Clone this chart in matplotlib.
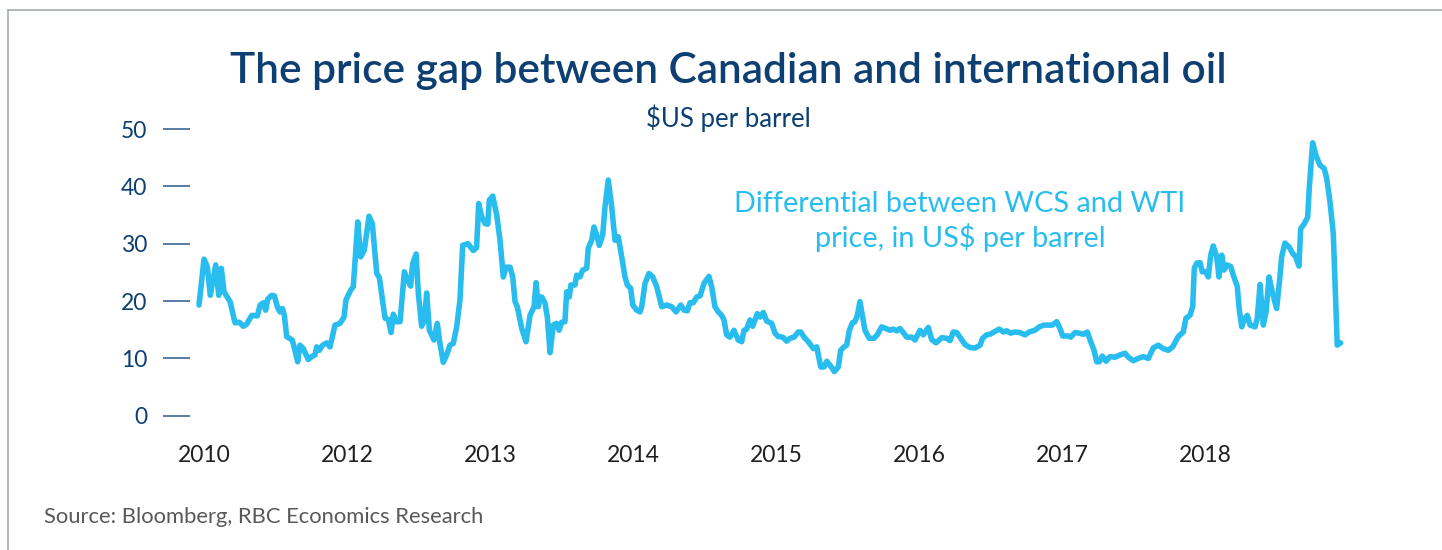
import matplotlib
matplotlib.use("Agg")
import matplotlib.pyplot as plt
from matplotlib.lines import Line2D

# WCS - WTI differential, $US per barrel
dates = [
    2010.965, 2011.000, 2011.023, 2011.044, 2011.082, 2011.103, 2011.121, 2011.140, 2011.182, 2011.217,
    2011.247, 2011.275, 2011.299, 2011.334, 2011.373, 2011.392, 2011.415, 2011.431, 2011.445, 2011.473,
    2011.492, 2011.513, 2011.531, 2011.548, 2011.562, 2011.578, 2011.617, 2011.636, 2011.655, 2011.671,
    2011.694, 2011.729, 2011.753, 2011.776, 2011.788, 2011.806, 2011.830, 2011.858, 2011.881, 2011.916,
    2011.951, 2011.979, 2011.993, 2012.026, 2012.044, 2012.075, 2012.096, 2012.121, 2012.154, 2012.177,
    2012.208, 2012.226, 2012.266, 2012.289, 2012.308, 2012.324, 2012.343, 2012.371, 2012.401, 2012.425,
    2012.445, 2012.459, 2012.483, 2012.499, 2012.522, 2012.541, 2012.557, 2012.576, 2012.608, 2012.631,
    2012.650, 2012.673, 2012.697, 2012.720, 2012.743, 2012.767, 2012.790, 2012.809, 2012.846, 2012.883,
    2012.906, 2012.921, 2012.942, 2012.965, 2012.984, 2012.995, 2013.019, 2013.047, 2013.070, 2013.093,
    2013.112, 2013.140, 2013.159, 2013.175, 2013.191, 2013.222, 2013.252, 2013.280, 2013.299, 2013.308,
    2013.322, 2013.338, 2013.350, 2013.362, 2013.385, 2013.401, 2013.420, 2013.443, 2013.466, 2013.483,
    2013.501, 2013.524, 2013.536, 2013.554, 2013.566, 2013.594, 2013.606, 2013.629, 2013.648, 2013.676,
    2013.687, 2013.711, 2013.727, 2013.746, 2013.764, 2013.788, 2013.804, 2013.827, 2013.851, 2013.874,
    2013.897, 2013.921, 2013.944, 2013.960, 2013.984, 2013.998, 2014.026, 2014.049, 2014.061, 2014.084,
    2014.112, 2014.138, 2014.166, 2014.201, 2014.236, 2014.271, 2014.301, 2014.334, 2014.357, 2014.380,
    2014.399, 2014.422, 2014.445, 2014.469, 2014.497, 2014.531, 2014.550, 2014.573, 2014.597, 2014.620,
    2014.636, 2014.655, 2014.678, 2014.706, 2014.736, 2014.760, 2014.776, 2014.795, 2014.818, 2014.837,
    2014.869, 2014.888, 2014.911, 2014.935, 2014.970, 2014.993, 2015.016, 2015.047, 2015.075, 2015.098,
    2015.126, 2015.156, 2015.173, 2015.196, 2015.226, 2015.261, 2015.285, 2015.313, 2015.336, 2015.355,
    2015.378, 2015.408, 2015.436, 2015.452, 2015.476, 2015.494, 2015.513, 2015.534, 2015.552, 2015.569,
    2015.587, 2015.606, 2015.622, 2015.652, 2015.685, 2015.708, 2015.739, 2015.769, 2015.797, 2015.820,
    2015.844, 2015.867, 2015.890, 2015.914, 2015.949, 2015.972, 2016.007, 2016.030, 2016.065, 2016.088,
    2016.119, 2016.159, 2016.194, 2016.217, 2016.240, 2016.264, 2016.292, 2016.322, 2016.357, 2016.392,
    2016.427, 2016.445, 2016.473, 2016.497, 2016.524, 2016.562, 2016.590, 2016.613, 2016.641, 2016.671,
    2016.706, 2016.741, 2016.771, 2016.811, 2016.841, 2016.874, 2016.904, 2016.932, 2016.963, 2016.986,
    2017.005, 2017.044, 2017.061, 2017.091, 2017.121, 2017.149, 2017.177, 2017.201, 2017.224, 2017.243,
    2017.261, 2017.282, 2017.308, 2017.336, 2017.371, 2017.406, 2017.441, 2017.464, 2017.499, 2017.534,
    2017.568, 2017.604, 2017.638, 2017.673, 2017.708, 2017.743, 2017.774, 2017.813, 2017.848, 2017.867,
    2017.895, 2017.914, 2017.925, 2017.942, 2017.965, 2017.981, 2018.005, 2018.023, 2018.040, 2018.058,
    2018.082, 2018.098, 2018.117, 2018.133, 2018.156, 2018.180, 2018.198, 2018.226, 2018.240, 2018.257,
    2018.273, 2018.296, 2018.315, 2018.350, 2018.366, 2018.385, 2018.408, 2018.427, 2018.448, 2018.473,
    2018.501, 2018.524, 2018.536, 2018.559, 2018.589, 2018.613, 2018.634, 2018.657, 2018.669, 2018.692,
    2018.718, 2018.729, 2018.753, 2018.776, 2018.804, 2018.834, 2018.851, 2018.874, 2018.897, 2018.925,
    2018.949,
]
spread = [
    19.3, 27.3, 26.0, 21.0, 26.3, 21.0, 25.7, 21.6, 19.9, 16.2,
    16.3, 15.6, 16.0, 17.5, 17.4, 19.3, 19.7, 18.4, 20.3, 21.0,
    20.9, 19.0, 18.1, 18.7, 17.5, 13.8, 13.2, 11.4, 9.4, 12.3,
    11.7, 9.8, 10.3, 10.6, 12.0, 11.4, 12.3, 12.7, 12.0, 15.8,
    16.1, 17.2, 20.2, 21.9, 22.5, 33.8, 27.7, 28.9, 34.8, 33.5,
    24.8, 24.1, 17.0, 16.8, 14.5, 17.7, 16.4, 16.4, 25.1, 23.6,
    22.6, 26.5, 28.2, 21.3, 15.6, 16.7, 21.4, 14.9, 13.2, 16.1,
    12.6, 9.3, 10.6, 12.3, 12.6, 15.5, 20.2, 29.7, 30.0, 28.8,
    29.3, 37.0, 34.7, 33.5, 33.4, 37.6, 38.3, 35.0, 30.6, 24.2,
    25.9, 25.9, 24.2, 19.9, 19.0, 15.2, 12.9, 17.5, 18.5, 19.0,
    23.2, 19.0, 20.7, 20.7, 19.6, 17.2, 11.0, 15.8, 16.1, 14.9,
    16.3, 16.4, 21.6, 20.7, 22.8, 22.8, 24.5, 24.2, 25.4, 25.7,
    29.2, 30.6, 32.9, 31.5, 29.7, 31.5, 36.4, 41.1, 36.4, 30.6,
    31.2, 27.7, 24.2, 22.8, 22.2, 19.3, 18.4, 18.1, 19.0, 23.1,
    24.8, 24.2, 22.5, 19.0, 19.3, 19.0, 18.1, 19.3, 18.4, 18.3,
    19.7, 19.7, 20.7, 20.9, 23.1, 24.3, 22.5, 19.0, 18.1, 17.5,
    16.7, 14.1, 13.7, 14.9, 13.2, 12.9, 14.9, 15.1, 16.7, 15.6,
    17.8, 17.2, 18.0, 16.5, 16.1, 14.4, 13.8, 13.7, 13.0, 13.5,
    13.7, 14.6, 14.6, 13.7, 12.9, 11.7, 12.0, 8.5, 8.5, 9.5,
    8.8, 7.7, 8.5, 11.4, 12.0, 12.3, 14.9, 16.2, 16.4, 17.5,
    19.9, 17.2, 14.9, 13.5, 13.5, 14.1, 15.5, 15.2, 14.9, 15.1,
    14.8, 15.2, 14.5, 13.7, 13.7, 13.2, 14.9, 14.1, 15.4, 13.3,
    12.7, 13.6, 13.5, 13.1, 14.6, 14.5, 13.5, 12.4, 11.9, 11.8,
    12.3, 13.5, 14.1, 14.2, 14.6, 15.1, 14.6, 14.8, 14.4, 14.6,
    14.5, 14.1, 14.6, 14.9, 15.5, 15.8, 15.8, 15.8, 16.4, 15.2,
    13.9, 13.9, 13.7, 14.5, 14.4, 14.2, 14.6, 12.9, 11.4, 9.4,
    9.4, 10.4, 9.5, 10.3, 10.2, 10.6, 10.9, 10.2, 9.6, 10.0,
    10.3, 10.0, 11.8, 12.3, 11.7, 11.4, 12.0, 13.8, 14.6, 17.0,
    17.5, 19.0, 25.7, 26.6, 26.7, 25.1, 25.1, 24.2, 28.0, 29.6,
    27.7, 24.2, 28.0, 25.4, 26.3, 26.0, 24.5, 22.5, 18.4, 15.5,
    16.7, 17.5, 15.8, 15.5, 17.0, 22.9, 15.8, 18.1, 24.2, 21.3,
    18.7, 24.2, 27.7, 30.1, 29.4, 28.3, 27.7, 26.1, 32.6, 33.4,
    34.6, 39.6, 47.6, 45.4, 43.7, 43.1, 41.4, 37.3, 31.8, 12.3,
    12.7,
]

# tick positions and the labels as printed on the original
tick_pos = [2011, 2012, 2013, 2014, 2015, 2016, 2017, 2018]
tick_labels = ["2010", "2012", "2013", "2014", "2015", "2016", "2017", "2018"]
y_ticks = [0, 10, 20, 30, 40, 50]

navy = "#0d3f73"
line_blue = "#29bdef"

plt.rcParams["font.family"] = ["Lato", "DejaVu Sans"]

W, H = 1442, 550
fig = plt.figure(figsize=(W / 100, H / 100), dpi=100)
ax = fig.add_axes([190 / W, (H - 415.7) / H, (1360 - 190) / W, (415.7 - 129) / H])

ax.plot(dates, spread, color=line_blue, lw=4.0, solid_joinstyle="round",
        solid_capstyle="round", clip_on=False)

ax.set_xlim(2010.902, 2019.084)
ax.set_ylim(0, 50)
for s in ax.spines.values():
    s.set_visible(False)

ax.set_yticks(y_ticks)
ax.tick_params(axis="y", direction="out", length=19.4, width=1.1, color="#2b5a8a",
               pad=11.5, labelsize=16.5, labelcolor=navy)
ax.set_xticks(tick_pos)
ax.set_xticklabels(tick_labels)
ax.tick_params(axis="x", length=0, pad=21, labelsize=16.5, labelcolor="#231f20")

# titles and notes
fig.text(728 / W, (H - 83) / H, "The price gap between Canadian and international oil",
         ha="center", va="baseline", fontsize=30.5, color=navy, fontweight="semibold")
fig.text(728 / W, (H - 127) / H, "$US per barrel", ha="center", va="baseline",
         fontsize=18.5, color=navy)
fig.text(960 / W, (H - 212) / H, "Differential between WCS and WTI", ha="center",
         va="baseline", fontsize=20.8, color=line_blue)
fig.text(960 / W, (H - 247) / H, "price, in US$ per barrel", ha="center",
         va="baseline", fontsize=20.8, color=line_blue)
fig.text(44 / W, (H - 523) / H, "Source: Bloomberg, RBC Economics Research",
         ha="left", va="baseline", fontsize=15.8, color="#58595b")

# thin frame along the top and left edges
fig.add_artist(Line2D([8 / W, 1], [(H - 10) / H, (H - 10) / H], color="#a3abb3", lw=1.2))
fig.add_artist(Line2D([8 / W, 8 / W], [0, (H - 10) / H], color="#a3abb3", lw=1.2))

fig.savefig("out.png", dpi=100, facecolor="white")
